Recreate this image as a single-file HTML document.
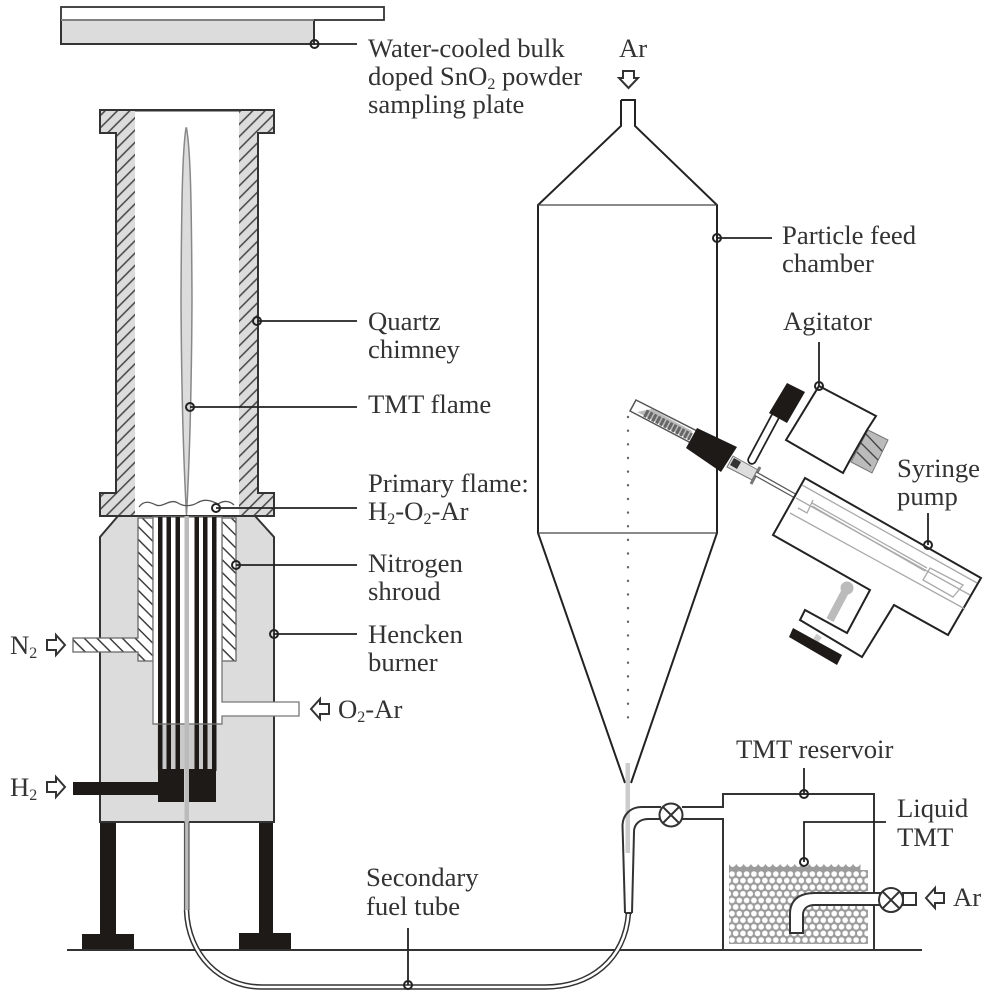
<!DOCTYPE html>
<html><head><meta charset="utf-8"><style>
html,body{margin:0;padding:0;background:#fff}
svg{display:block;filter:blur(.35px)}
text{font-family:"Liberation Serif",serif;font-size:26.7px;fill:#333}
tspan.s{font-size:16px}
</style></head><body>
<svg width="989" height="1000" viewBox="0 0 989 1000" xmlns="http://www.w3.org/2000/svg">
<defs>
<pattern id="h1" width="8.7" height="8.7" patternUnits="userSpaceOnUse" patternTransform="rotate(-45)"><rect width="8.7" height="8.7" fill="#dcdcdc"/><rect width="8.7" height="1.5" y="4" fill="#444"/></pattern>
<pattern id="h2" width="9" height="9" patternUnits="userSpaceOnUse" patternTransform="rotate(45)"><rect width="9" height="9" fill="#fff"/><rect width="9" height="1.4" y="4" fill="#333"/></pattern>
<pattern id="b" width="7.3" height="13.2" patternUnits="userSpaceOnUse" x="729" y="871"><rect width="7.3" height="13.2" fill="#9c9c9c"/><circle cx="3" cy="3" r="2.8" fill="#fff"/><circle cx="6.65" cy="9.6" r="2.8" fill="#fff"/><circle cx="-0.65" cy="9.6" r="2.8" fill="#fff"/></pattern>
<g id="o"><circle r="4" fill="none" stroke="#222" stroke-width="2"/></g>
</defs>

<!-- sampling plate -->
<rect x="61" y="7" width="323" height="13" fill="#fff" stroke="#333" stroke-width="1.8"/>
<path d="M61 20H314V44H61Z" fill="#dcdcdc" stroke="#333" stroke-width="2"/>
<path d="M61 20H314" stroke="#999" stroke-width="1.6"/>
<path d="M314 44H357" stroke="#222" stroke-width="1.8"/>
<use href="#o" x="314.5" y="44"/>

<!-- burner body -->
<path d="M118 516L100 537V822H274V537L255 516Z" fill="#dcdcdc" stroke="#333" stroke-width="2"/>
<!-- legs -->
<rect x="100" y="823" width="16" height="112" fill="#1d1a18"/>
<rect x="82" y="934" width="52" height="16" fill="#1d1a18"/>
<rect x="259" y="823" width="14" height="112" fill="#1d1a18"/>
<rect x="239" y="933" width="52" height="17" fill="#1d1a18"/>

<!-- chimney -->
<path d="M100 110H274V133H258V493H274V516H100V493H116V133H100Z" fill="url(#h1)" stroke="#333" stroke-width="2"/>
<rect x="135" y="111" width="104" height="404" fill="#fff"/>
<path d="M135 110.5H239M100 516H274" stroke="#333" stroke-width="2"/>
<!-- flame -->
<path d="M186 128C182.500 150 181.500 200 181 300C181.500 400 184 470 186.500 515C189 470 191.500 400 192 300C191.500 200 190.500 150 186.500 128Z" fill="#dcdcdc" stroke="#888" stroke-width="1.500"/>
<path d="M139 507C144 500 150 502 156 505C163 508 170 498 178 503C184 507 192 506 197 503C205 498 212 501 218 504C224 500 230 501 234 505" fill="none" stroke="#555" stroke-width="1.300"/>

<!-- shroud & N2 -->
<path d="M138 518H153V661H138V652H73V638H138Z" fill="url(#h2)" stroke="#666" stroke-width="1.3"/>
<path d="M222 518H236V661H222Z" fill="url(#h2)" stroke="#666" stroke-width="1.3"/>
<!-- inner white -->
<path d="M153 517H222V702H299V716H222V724H153Z" fill="#fff" stroke="#777" stroke-width="1.3"/>
<rect x="157" y="724" width="59" height="46" fill="#c9c9c9"/>
<g fill="#1d1a18">
<rect x="158" y="517" width="4.5" height="254"/>
<rect x="166.500" y="517" width="4.500" height="254"/>
<rect x="175.500" y="517" width="4.500" height="254"/>
<rect x="194.500" y="517" width="4.500" height="254"/>
<rect x="203" y="517" width="4.500" height="254"/>
<rect x="212" y="517" width="4.500" height="254"/>
<rect x="158" y="769" width="26" height="33"/>
<rect x="189" y="769" width="27" height="33"/>
<rect x="73" y="782" width="86" height="13"/>
</g>
<path d="M153 724H222" stroke="#777" stroke-width="1.3"/>
<!-- centre tube -->
<rect x="184.500" y="516" width="4.500" height="395" fill="#bbb"/>
<path d="M184.500 822V910M189 822V910" stroke="#555" stroke-width="1.2"/>

<!-- ground -->
<path d="M67 950H922" stroke="#333" stroke-width="2"/>
<!-- secondary fuel tube -->
<path d="M186.500 910C188 955 220 987 262 987H545C590 987 625 960 628.500 913" fill="none" stroke="#333" stroke-width="5.500"/>
<path d="M186.500 910C188 955 220 987 262 987H545C590 987 625 960 628.500 913" fill="none" stroke="#fff" stroke-width="2.500"/>

<!-- chamber -->
<path d="M621 100H635V126L717 205V533L631 783M621 100V126L538 205V533L625 783" fill="none" stroke="#222" stroke-width="2"/>
<path d="M538 205H717M538 533H717" stroke="#444" stroke-width="1.2"/>
<path d="M628 417V718" stroke="#666" stroke-width="2.400" stroke-linecap="round" stroke-dasharray="0.100 13.550"/>
<rect x="625.500" y="763" width="4.500" height="90" fill="#ccc"/>
<!-- feed tube -->
<path d="M625 913L622.500 825C623 815 630 807 642 807H661M632 913L634 832C634 824 640 819 648 819H661" fill="none" stroke="#333" stroke-width="2"/>
<path d="M625 913H632" stroke="#333" stroke-width="2"/>
<!-- valve 1 -->
<circle cx="671" cy="815" r="11.500" fill="#fff" stroke="#333" stroke-width="2"/>
<path d="M663 807L679 823M679 807L663 823" stroke="#333" stroke-width="2"/>
<!-- reservoir -->
<path d="M682 807H723V794H874V950M682 819H723V950" fill="none" stroke="#333" stroke-width="2"/>
<rect x="729" y="870" width="139" height="74" fill="url(#b)"/>
<path d="M729 871V864q1.800 3 3.650 3t3.650-3q1.800 3 3.650 3t3.650-3q1.800 3 3.650 3t3.650-3q1.800 3 3.650 3t3.650-3q1.800 3 3.650 3t3.650-3q1.800 3 3.650 3t3.650-3q1.800 3 3.650 3t3.650-3q1.800 3 3.650 3t3.650-3q1.800 3 3.650 3t3.650-3q1.800 3 3.650 3t3.650-3q1.800 3 3.650 3t3.650-3q1.800 3 3.650 3t3.650-3q1.800 3 3.650 3t3.650-3q1.800 3 3.650 3t3.650-3q1.800 3 3.650 3t3.650-3q1.800 3 3.650 3t3.650-3q1.800 3 3.650 3t3.650-3q1.800 3 3.650 3t3.650-3V871Z" fill="#9c9c9c"/>
<!-- Ar pipe -->
<path d="M880 893H815C798 893 790 901 790 914V933H803V915C803 908 808 905 815 905H880Z" fill="#fff" stroke="#333" stroke-width="2"/>
<rect x="903" y="893" width="13" height="12" fill="#fff" stroke="#333" stroke-width="2"/>
<circle cx="891" cy="900" r="12" fill="#fff" stroke="#333" stroke-width="2"/>
<path d="M883 892L899 908M899 892L883 908" stroke="#333" stroke-width="2"/>

<!-- agitator -->
<path d="M868 430L888 440L872 473L851 462Z" fill="#bbb" stroke="#777" stroke-width="1"/>
<path d="M866 434L882 451M861 443L878 460M857 452L871 466" stroke="#444" stroke-width="1.300"/>
<path d="M819 386L876 416L867 430L850 460L843 473L786 440Z" fill="#fff" stroke="#222" stroke-width="2"/>
<path d="M775 417L752 460" stroke="#222" stroke-width="9.500" stroke-linecap="round"/>
<path d="M775 417L752 460" stroke="#fff" stroke-width="6" stroke-linecap="round"/>
<path d="M787 383L805 392L787 423L769 413Z" fill="#1d1a18"/>

<!-- probe -->
<path d="M636 400L697 431L691 443L630 411Z" fill="#fff" stroke="#555" stroke-width="1.500"/>
<path d="M637 412L652 409L692 431L690 440Z" fill="#bbb"/>
<path d="M645 413L691 437" stroke="#666" stroke-width="8" stroke-dasharray="3 1.500"/>
<path d="M697 428L737 447L721 472L686 448Z" fill="#1d1a18"/>
<path d="M733 456L758 470L752 480L727 467Z" fill="#ddd" stroke="#777" stroke-width="1"/>
<path d="M734 458L741 462L737 469L730 465Z" fill="#333"/>
<path d="M760 467L751 484" stroke="#777" stroke-width="3"/>
<path d="M756 474L797 497" stroke="#555" stroke-width="5"/>
<path d="M756 474L797 497" stroke="#fff" stroke-width="2.500"/>

<!-- syringe pump -->
<path d="M805 478L981 578L948 635L894 605L862 657L800 620L805 610L847 633L870 590L773 535Z" fill="#fff" stroke="#222" stroke-width="2"/>
<g stroke="#aaa" stroke-width="1.300" fill="none">
<path d="M802 485L977 583M796 498L970 595M790 513L965 609"/>
<path d="M812 503L927 568M812 506L925 571"/>
<path d="M813 500L807 513L798 508"/>
<path d="M930 568L963 585L953 597L923 580Z"/>
</g>
<path d="M847 588L830 620" stroke="#bbb" stroke-width="8"/>
<circle cx="847" cy="588" r="6.500" fill="#bbb"/>
<path d="M820 640L815 636" stroke="#ccc" stroke-width="6"/>
<path d="M793 628L842 655L837 665L789 637Z" fill="#1d1a18"/>

<!-- leaders -->
<g stroke="#222" stroke-width="1.800" fill="none">
<path d="M717 238H772M819 342V386M928 513V545M257 321H357M190 407H357M216 508H357M236 565H357M274 634H357M804 768V794M886 822H804V862M408 928V985"/>
</g>
<use href="#o" x="717" y="238"/><use href="#o" x="819" y="386"/><use href="#o" x="928" y="545"/>
<use href="#o" x="257" y="321"/><use href="#o" x="190" y="407"/><use href="#o" x="216" y="508"/>
<use href="#o" x="236" y="565"/><use href="#o" x="274" y="634"/><use href="#o" x="804" y="794"/>
<use href="#o" x="804" y="862"/><use href="#o" x="408" y="985"/>

<!-- arrows -->
<g fill="#fff" stroke="#333" stroke-width="2">
<path d="M623 71H634V78H638L628.500 88L619 78H623Z"/>
<path d="M47 640H56V635L65 645L56 655V650H47Z"/>
<path d="M47 782H56V777L65 787L56 797V792H47Z"/>
<path d="M329 704H320V699L311 709L320 719V714H329Z"/>
<path d="M944 893H935V888L926 898L935 908V903H944Z"/>
</g>

<!-- labels -->
<text x="368" y="57">Water-cooled bulk</text>
<text x="368" y="85">doped SnO<tspan class="s" dy="4">2</tspan><tspan dy="-4"> powder</tspan></text>
<text x="368" y="113">sampling plate</text>
<text x="619" y="57">Ar</text>
<text x="782" y="244">Particle feed</text>
<text x="782" y="272">chamber</text>
<text x="783" y="330">Agitator</text>
<text x="897" y="477">Syringe</text>
<text x="897" y="505">pump</text>
<text x="368" y="330">Quartz</text>
<text x="368" y="358">chimney</text>
<text x="368" y="413">TMT flame</text>
<text x="368" y="492">Primary flame:</text>
<text x="368" y="520">H<tspan class="s" dy="4">2</tspan><tspan dy="-4">-O</tspan><tspan class="s" dy="4">2</tspan><tspan dy="-4">-Ar</tspan></text>
<text x="368" y="572">Nitrogen</text>
<text x="368" y="600">shroud</text>
<text x="368" y="643">Hencken</text>
<text x="368" y="671">burner</text>
<text x="338" y="718">O<tspan class="s" dy="4">2</tspan><tspan dy="-4">-Ar</tspan></text>
<text x="10" y="654">N<tspan class="s" dy="4">2</tspan></text>
<text x="10" y="796">H<tspan class="s" dy="4">2</tspan></text>
<text x="736" y="758">TMT reservoir</text>
<text x="897" y="817">Liquid</text>
<text x="897" y="846">TMT</text>
<text x="953" y="906">Ar</text>
<text x="366" y="886">Secondary</text>
<text x="366" y="915">fuel tube</text>
</svg>
</body></html>
